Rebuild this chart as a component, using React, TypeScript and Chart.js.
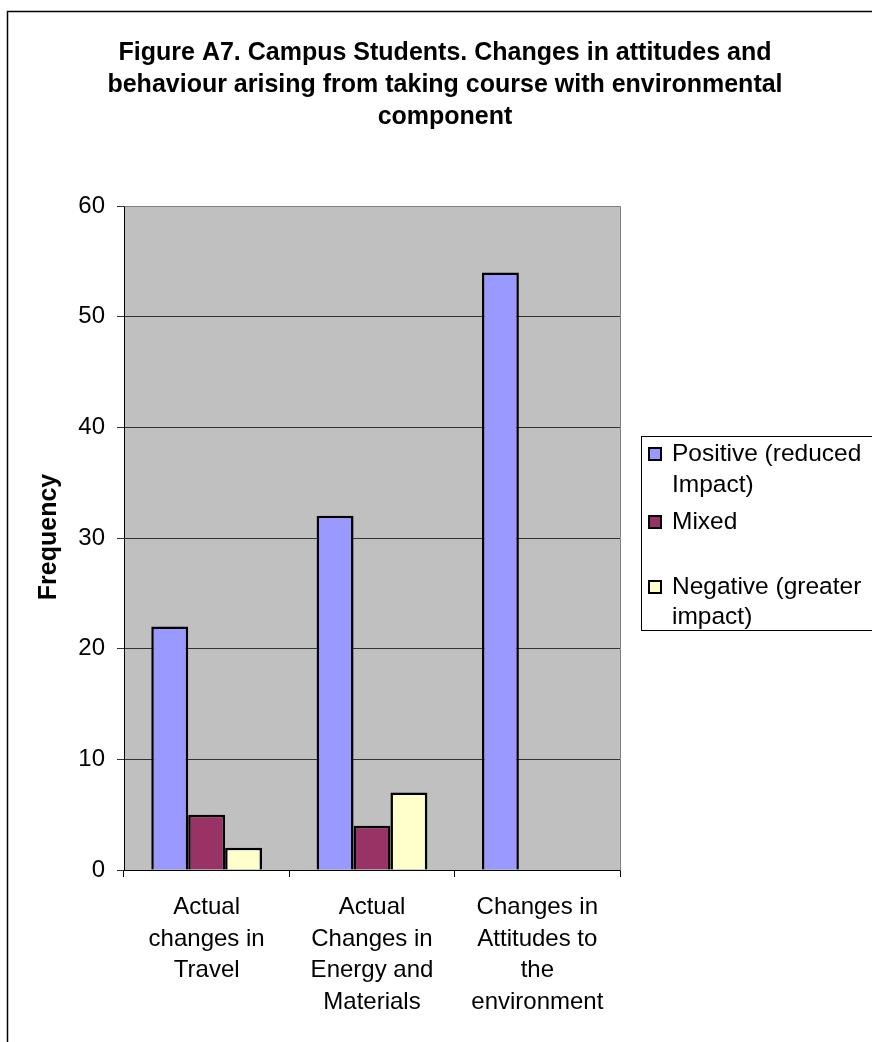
import React, { useEffect, useRef } from 'react';
import { Chart, registerables } from 'chart.js';

Chart.register(...registerables);

const FONT = "'Liberation Sans', Arial, Helvetica, sans-serif";

const titleLines = [
  'Figure A7. Campus Students. Changes in attitudes and',
  'behaviour arising from taking course with environmental',
  'component',
];
const yAxisTitle = 'Frequency';
const categories = [
  ['Actual', 'changes in', 'Travel'],
  ['Actual', 'Changes in', 'Energy and', 'Materials'],
  ['Changes in', 'Attitudes to', 'the', 'environment'],
];
const seriesNames = ['Positive (reduced Impact)', 'Mixed', 'Negative (greater impact)'];
const legendLines = [['Positive (reduced', 'Impact)'], ['Mixed'], ['Negative (greater', 'impact)']];
const positiveValues = [22, 32, 54];
const mixedValues = [5, 4, null];
const negativeValues = [2, 7, null];
const seriesColors = ['#9999FF', '#993366', '#FFFFCC'];
const yMin = 0;
const yMax = 60;
const yStep = 10;

const decorPlugin = {
  id: 'decor',
  beforeDraw(chart: any) {
    const { ctx, chartArea: a } = chart;
    ctx.save();
    ctx.fillStyle = '#ffffff';
    ctx.fillRect(0, 0, chart.width, chart.height);
    ctx.fillStyle = '#C0C0C0';
    ctx.fillRect(a.left, a.top, a.right - a.left, a.bottom - a.top);
    ctx.restore();
  },
  afterDraw(chart: any) {
    const { ctx, chartArea: a } = chart;
    ctx.save();
    // plot area top/right border
    ctx.strokeStyle = '#808080';
    ctx.lineWidth = 1;
    ctx.beginPath();
    ctx.moveTo(Math.round(a.left) + 0.5, Math.round(a.top) + 0.5);
    ctx.lineTo(Math.round(a.right) + 0.5, Math.round(a.top) + 0.5);
    ctx.lineTo(Math.round(a.right) + 0.5, Math.round(a.bottom) + 0.5);
    ctx.stroke();

    // outer chart border
    ctx.strokeStyle = '#000';
    ctx.lineWidth = 1.5;
    ctx.strokeRect(7.5, 11.5, 1000, 1200);

    // title
    ctx.fillStyle = '#000';
    ctx.font = `bold 25px ${FONT}`;
    ctx.textAlign = 'center';
    ctx.textBaseline = 'middle';
    const ty = [53, 85, 117];
    titleLines.forEach((t, i) => ctx.fillText(t, 445, ty[i]));

    // y axis title
    ctx.save();
    ctx.translate(49, 537);
    ctx.rotate(-Math.PI / 2);
    ctx.font = `bold 25px ${FONT}`;
    ctx.fillText(yAxisTitle, 0, 0);
    ctx.restore();

    // legend
    ctx.strokeStyle = '#000';
    ctx.lineWidth = 1;
    ctx.strokeRect(641.5, 436.5, 400, 194);
    const rowY = [[454, 485], [522], [587, 617]];
    ctx.font = `24.5px ${FONT}`;
    ctx.textAlign = 'left';
    legendLines.forEach((lines, i) => {
      const cy = rowY[i][0];
      ctx.fillStyle = seriesColors[i];
      ctx.fillRect(649, cy - 6, 12, 12);
      ctx.lineWidth = 2;
      ctx.strokeRect(649, cy - 6, 12, 12);
      ctx.fillStyle = '#000';
      lines.forEach((l, j) => ctx.fillText(l, 672, rowY[i][j]));
    });
    ctx.restore();
  },
};

export default function App() {
  const ref = useRef<HTMLCanvasElement>(null);
  useEffect(() => {
    if (!ref.current) return;
    const chart = new Chart(ref.current, {
      type: 'bar',
      data: {
        labels: categories as any,
        datasets: [
          { label: seriesNames[0], data: positiveValues as any, backgroundColor: seriesColors[0], borderColor: '#000', borderWidth: 2.5 },
          { label: seriesNames[1], data: mixedValues as any, backgroundColor: seriesColors[1], borderColor: '#000', borderWidth: 2.5 },
          { label: seriesNames[2], data: negativeValues as any, backgroundColor: seriesColors[2], borderColor: '#000', borderWidth: 2.5 },
        ],
      },
      options: {
        responsive: false,
        animation: false,
        devicePixelRatio: 1,
        layout: { padding: { top: 206, right: 252, left: 0, bottom: 0 } },
        datasets: { bar: { categoryPercentage: 0.67, barPercentage: 1 } },
        plugins: { legend: { display: false }, tooltip: { enabled: false }, title: { display: false } },
        scales: {
          x: {
            offset: true,
            grid: { offset: true, drawOnChartArea: false, drawTicks: true, tickLength: 7, color: '#000' },
            border: { color: '#000', width: 1 },
            ticks: { color: '#000', font: { family: FONT, size: 24, lineHeight: 1.33 }, padding: 14, maxRotation: 0, autoSkip: false },
            afterFit(s: any) { s.height = 172; },
          },
          y: {
            min: yMin,
            max: yMax,
            ticks: { stepSize: yStep, color: '#000', font: { family: FONT, size: 24 }, padding: 12 },
            grid: { color: '#333', tickLength: 7, drawTicks: true },
            border: { color: '#000', width: 1 },
            afterFit(s: any) { s.width = 124; },
          },
        },
      },
      plugins: [decorPlugin],
    });
    return () => chart.destroy();
  }, []);
  return (
    <div style={{ position: 'absolute', left: 0, top: 0, width: 872, height: 1042 }}>
      <canvas ref={ref} width={872} height={1042} style={{ display: 'block' }} />
    </div>
  );
}
